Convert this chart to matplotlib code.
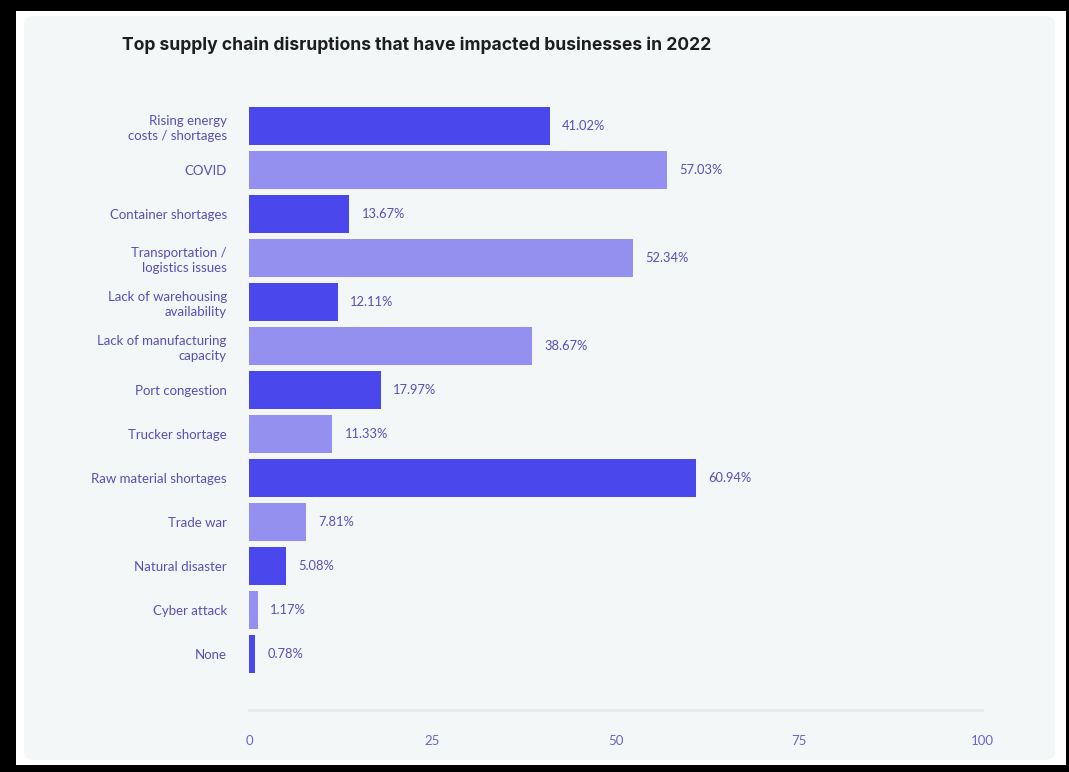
import matplotlib.pyplot as plt
from matplotlib.patches import Rectangle, FancyBboxPatch

categories = [
    "Rising energy\ncosts / shortages",
    "COVID",
    "Container shortages",
    "Transportation /\nlogistics issues",
    "Lack of warehousing\navailability",
    "Lack of manufacturing\ncapacity",
    "Port congestion",
    "Trucker shortage",
    "Raw material shortages",
    "Trade war",
    "Natural disaster",
    "Cyber attack",
    "None",
]
values = [41.02, 57.03, 13.67, 52.34, 12.11, 38.67, 17.97, 11.33, 60.94, 7.81, 5.08, 1.17, 0.78]
xticks = [0, 25, 50, 75, 100]
title = "Top supply chain disruptions that have impacted businesses in 2022"

dark = "#4a47ec"
light = "#9490ef"
label_col = "#5650b8"
bg = "#f4f7f7"

plt.rcParams['font.family'] = ['Inter', 'DejaVu Sans']

fig = plt.figure(figsize=(10.69, 7.72), dpi=100)
fig.patch.set_facecolor("black")

W, H = 1069, 772
# white frame inside black border, then the light panel
fig.patches.append(Rectangle((16 / W, 1 - 765 / H), (1066 - 16) / W, (765 - 11) / H,
                             transform=fig.transFigure, facecolor="white", edgecolor="none", zorder=-2))
fig.patches.append(FancyBboxPatch((24 / W, 1 - 760 / H), (1055 - 24) / W, (760 - 16) / H,
                                  boxstyle="round,pad=0,rounding_size=0.01",
                                  transform=fig.transFigure, facecolor=bg, edgecolor="none", zorder=-1))

ax = fig.add_axes([249 / W, 1 - 710 / H, (982 - 249) / W, (710 - 104) / H])
ax.set_facecolor("none")

ypos = list(range(len(categories)))
colors = [dark if i % 2 == 0 else light for i in ypos]
ax.barh(ypos, values, height=0.86, color=colors, zorder=2)

for y, v in zip(ypos, values):
    ax.text(v + 1.7, y, f"{v:.2f}%", va="center", ha="left", fontsize=9.3, color=label_col,
            family="Lato")

ax.set_xlim(0, 100)
ax.set_ylim(12 + 1.27, -0.5)
ax.set_yticks(ypos)
ax.set_yticklabels(categories, fontsize=9.5, color=label_col, linespacing=1.3, family="Lato")
ax.set_xticks(xticks)
ax.set_xticklabels([str(t) for t in xticks], fontsize=9.5, color="#6a64c8", family="Lato")
ax.tick_params(axis="y", length=0, pad=16)
ax.tick_params(axis="x", length=0, pad=18)

for s in ["top", "right", "left"]:
    ax.spines[s].set_visible(False)
ax.spines["bottom"].set_color("#e6ebe6")
ax.spines["bottom"].set_linewidth(2)

fig.text(122 / W, 1 - 45 / H, title, fontsize=12.6, fontweight="bold", color="#1e1e1e",
         va="center", ha="left")

fig.savefig("out.png", dpi=100, facecolor=fig.get_facecolor())
